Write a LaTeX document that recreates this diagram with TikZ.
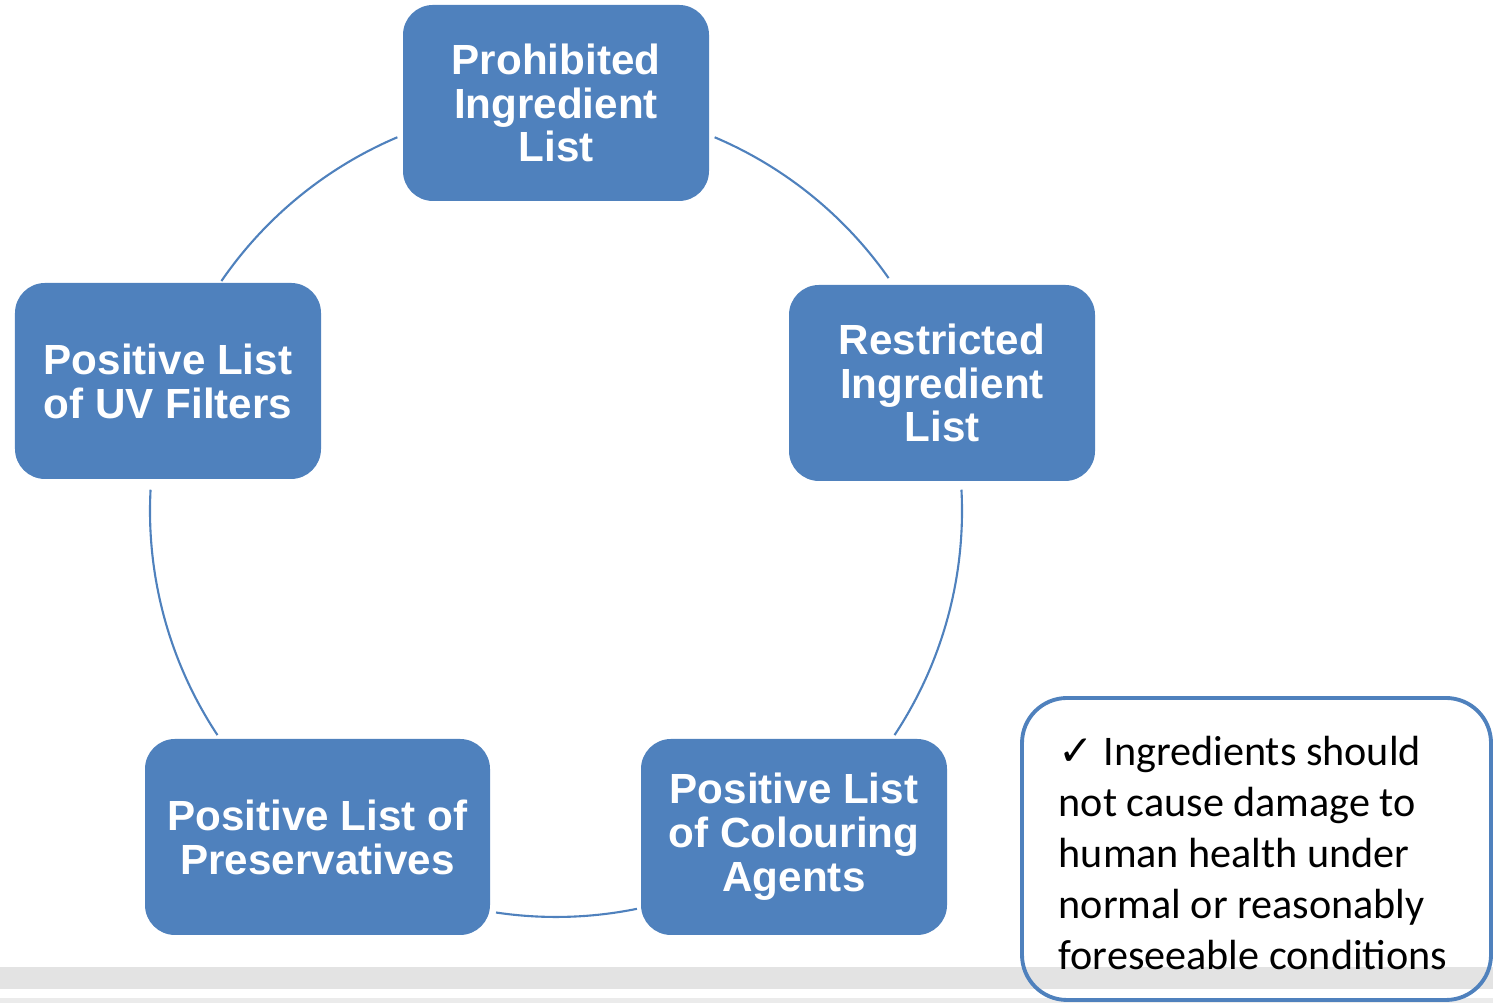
\documentclass[tikz,border=0pt]{standalone}
\usepackage{fontspec}
\usetikzlibrary{calc}
\newfontfamily\boxfont{Liberation Sans}
\newfontfamily\notefont{Carlito}
\newfontfamily\symfont{DejaVu Sans}
\definecolor{listblue}{RGB}{79,129,189}
\definecolor{bandgray}{RGB}{227,227,227}
\tikzset{
  listbox/.style={shape=rectangle, rounded corners=.3cm, fill=listblue, text=white,
    minimum width=3.06cm, minimum height=1.96cm, align=center, inner sep=0pt,
    font=\boxfont\bfseries\fontsize{12}{12.5}\selectfont},
  ring/.style={draw=listblue, line width=.6pt},
  notebox/.style={draw=listblue, line width=1.1pt, rounded corners=.45cm},
  notetext/.style={align=left, inner sep=0pt, font=\notefont\fontsize{12}{14.5}\selectfont}
}
\begin{document}
\begin{tikzpicture}
\useasboundingbox (0,0) rectangle (14.93,10.03);
% footer band
\fill[bandgray] (0,.14) rectangle (14.93,.36);
\fill[bandgray!70] (0,0) rectangle (14.93,.05);
% the five lists
\node[listbox] (prohib) at (5.56,9.0) {Prohibited\\Ingredient\\List};
\node[listbox] (restr) at (9.42,6.2) {Restricted\\Ingredient\\List};
\node[listbox] (colour) at (7.94,1.66) {Positive List\\of Colouring\\Agents};
\node[listbox, minimum width=3.45cm] (preserv) at (3.175,1.66) {Positive List of\\Preservatives};
\node[listbox] (uv) at (1.68,6.22) {Positive List\\of UV Filters};
% ring between them
\coordinate (c) at (5.56,4.92);
\def\R{4.06}
\draw[ring] ($(c)+(67:\R)$) arc[start angle=67, end angle=35, radius=\R];
\draw[ring] ($(c)+(3:\R)$) arc[start angle=3, end angle=-33.5, radius=\R];
\draw[ring] ($(c)+(-78.5:\R)$) arc[start angle=-78.5, end angle=-98.5, radius=\R];
\draw[ring] ($(c)+(213.5:\R)$) arc[start angle=213.5, end angle=177, radius=\R];
\draw[ring] ($(c)+(145.5:\R)$) arc[start angle=145.5, end angle=113, radius=\R];
% note
\draw[notebox] (10.22,.03) rectangle (14.91,3.05);
\node[notetext, anchor=north west] (note) at (10.58,2.67)
  {{\symfont ✓} Ingredients should\\not cause damage to\\human health under\\normal or reasonably\\foreseeable conditions};
\end{tikzpicture}
\end{document}
